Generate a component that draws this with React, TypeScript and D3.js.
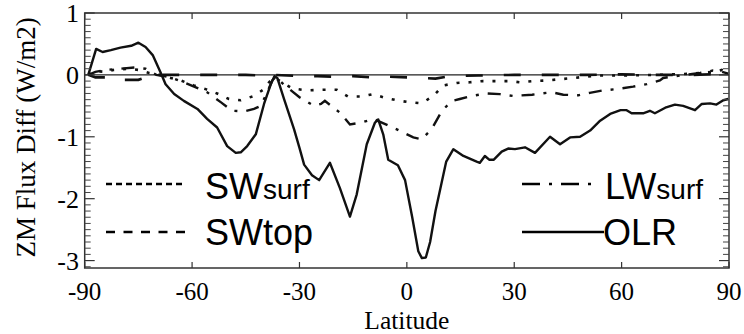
import React from 'react';
import * as d3 from 'd3';

// ---- data (latitude, W/m2) ----
const xTickValues = [-90, -60, -30, 0, 30, 60, 90];
const yTickValues = [1, 0, -1, -2, -3];

const OLR: [number, number][] = [
  [-89, 0.0], [-86.8, 0.42], [-85, 0.37], [-82.7, 0.4], [-80, 0.44], [-77, 0.47], [-75, 0.52],
  [-73, 0.45], [-71, 0.32], [-68.8, 0.04], [-67.4, -0.15], [-65, -0.31], [-62.3, -0.42],
  [-58.5, -0.55], [-55.8, -0.71], [-53, -0.85], [-50.2, -1.15], [-47.8, -1.26], [-46.4, -1.25],
  [-44.6, -1.15], [-42.2, -0.96], [-39.9, -0.47], [-38, -0.15], [-37, -0.02], [-36.2, -0.05],
  [-34.3, -0.39], [-31.5, -0.88], [-30, -1.18], [-28.7, -1.45], [-26.5, -1.62], [-24.5, -1.7],
  [-21.5, -1.42], [-18.7, -1.83], [-15.9, -2.29], [-14, -1.93], [-11.2, -1.12], [-8.9, -0.77],
  [-8, -0.72], [-6.6, -0.96], [-5.2, -1.37], [-2.5, -1.46], [-0.5, -1.7], [1.5, -2.3],
  [3.2, -2.85], [4.2, -2.96], [5.3, -2.95], [6.5, -2.7], [8, -2.2], [9.5, -1.8], [11, -1.4],
  [13, -1.2], [15.8, -1.31], [19.5, -1.4], [20.4, -1.42], [21.8, -1.31], [23, -1.37],
  [24.3, -1.37], [26.5, -1.24], [28.3, -1.19], [30.2, -1.2], [33, -1.17], [35.8, -1.26],
  [40, -1.0], [42.8, -1.12], [45.6, -1.01], [48.4, -1.0], [51.2, -0.9], [54, -0.74],
  [56.8, -0.63], [59.7, -0.57], [61.4, -0.57], [62.8, -0.62], [66, -0.62], [67.9, -0.58],
  [69.3, -0.62], [72.2, -0.53], [74.9, -0.48], [77.2, -0.5], [80.5, -0.57], [82.4, -0.47],
  [84.7, -0.46], [86.5, -0.48], [88.4, -0.41], [89.8, -0.39],
];

const LWsurf: [number, number][] = [
  [-89, 0.0], [-87, 0.05], [-84, 0.08], [-80, 0.1], [-76, 0.12], [-73, 0.1], [-70, 0.0],
  [-66, -0.04], [-62.3, -0.12], [-55.8, -0.28], [-52, -0.44], [-48.8, -0.58], [-45.5, -0.59],
  [-42.7, -0.55], [-40.8, -0.5], [-39, -0.28], [-37.6, -0.09], [-36.6, -0.03], [-34.5, -0.15],
  [-30, -0.36], [-26, -0.5], [-24, -0.47], [-22.9, -0.42], [-18.7, -0.61], [-15.9, -0.8],
  [-12.6, -0.77], [-9.4, -0.71], [-7, -0.77], [-2.8, -0.88], [1.8, -1.01], [4.1, -1.04],
  [6.9, -0.88], [9.8, -0.58], [12.6, -0.42], [14.8, -0.39], [18.2, -0.34], [22.3, -0.3],
  [26, -0.31], [29.7, -0.34], [35, -0.32], [40.4, -0.28], [43.7, -0.32], [47.9, -0.33],
  [51.1, -0.29], [54.9, -0.25], [58.6, -0.23], [63.2, -0.19], [67, -0.15], [70.7, -0.09],
  [71.6, -0.05], [76.3, -0.01], [81.9, 0.03], [85.5, 0.07], [88, 0.05], [89.8, 0.02],
];

const SWsurf: [number, number][] = [
  [-89, 0.0], [-87, 0.06], [-84, 0.05], [-82, 0.08], [-78, 0.1], [-75, 0.08], [-72, 0.03],
  [-69, 0.0], [-66, -0.05], [-63.2, -0.09], [-59.5, -0.17], [-56.2, -0.23], [-53, -0.3],
  [-49.7, -0.39], [-46.4, -0.41], [-42.7, -0.34], [-39.9, -0.23], [-38.5, -0.12], [-37.1, -0.04],
  [-34.3, -0.14], [-32, -0.22], [-28, -0.25], [-23.3, -0.24], [-19.6, -0.24], [-16.4, -0.35],
  [-12.6, -0.35], [-9.4, -0.31], [-6.1, -0.37], [-2.8, -0.41], [0.4, -0.44], [4.1, -0.46],
  [7.4, -0.34], [10.2, -0.17], [13.9, -0.13], [17.6, -0.12], [21.3, -0.1], [25.1, -0.1],
  [28.8, -0.1], [31.6, -0.12], [35.3, -0.1], [39, -0.09], [42.8, -0.07], [46.5, -0.05],
  [49.8, -0.03], [53.5, -0.01], [60, -0.01], [70, 0.0], [80, 0.02], [86, 0.05], [88, 0.08],
  [89.8, 0.03],
];

const SWtop: [number, number][] = [
  [-89, 0.0], [-87, -0.04], [-84, -0.04], [-82, -0.02], [-80, -0.08], [-75, -0.08],
  [-72, -0.02], [-68, 0.0], [-60, 0.0], [-50, 0.0], [-45, 0.0], [-40, -0.01], [-37, 0.0],
  [-30, -0.02], [-25, -0.02], [-20, -0.03], [-15, -0.02], [-10, -0.04], [-5, -0.03],
  [0, -0.04], [5, -0.05], [8, -0.06], [12, -0.02], [20, -0.01], [30, 0.0], [40, 0.0],
  [50, 0.0], [60, 0.01], [70, 0.0], [80, 0.0], [85, 0.01], [89.8, 0.0],
];

const x = d3.scaleLinear().domain([-90, 90]).range([84.7, 729]);
const y = d3.scaleLinear().domain([-3.12, 1]).range([268, 13]);

const line = d3
  .line<[number, number]>()
  .x((d) => x(d[0]))
  .y((d) => y(d[1]));

const minorY = d3.range(-31, 11).map((i) => i / 10).filter((v) => Math.abs(v - Math.round(v)) > 1e-6);

const SERIF = "'Liberation Serif', 'Times New Roman', 'DejaVu Serif', serif";
const SANS = "'Liberation Sans', Arial, sans-serif";
const INK = '#111';

export default function App() {
  const [x0, x1] = x.range();
  const [yb, yt] = y.range();
  return (
    <svg
      width={744}
      height={334}
      style={{ position: 'absolute', left: 0, top: 0, background: '#fff' }}
    >
      <rect x={0} y={0} width={744} height={334} fill="#fff" />
      {/* zero line */}
      <line x1={x0} x2={x1} y1={y(0)} y2={y(0)} stroke="#222" strokeWidth={1.3} />

      {/* series */}
      <path d={line(SWtop) || ''} fill="none" stroke={INK} strokeWidth={2.6} strokeDasharray="17,21" />
      <path d={line(SWsurf) || ''} fill="none" stroke={INK} strokeWidth={2.6} strokeDasharray="3,9" />
      <path d={line(LWsurf) || ''} fill="none" stroke={INK} strokeWidth={2.4} strokeDasharray="13,9,3,9" />
      <path d={line(OLR) || ''} fill="none" stroke={INK} strokeWidth={2.4} strokeLinejoin="round" />

      {/* frame */}
      <rect x={x0} y={yt} width={x1 - x0} height={yb - yt} fill="none" stroke="#333" strokeWidth={1.5} />

      {/* y ticks */}
      {yTickValues.map((v) => (
        <g key={'y' + v}>
          <line x1={x0} x2={x0 + 10} y1={y(v)} y2={y(v)} stroke="#333" strokeWidth={1.2} />
          <line x1={x1} x2={x1 - 10} y1={y(v)} y2={y(v)} stroke="#333" strokeWidth={1.2} />
          <text
            x={79}
            y={y(v) + 9}
            textAnchor="end"
            fontFamily={SERIF}
            fontSize={26}
            fill="#000"
          >
            {v}
          </text>
        </g>
      ))}
      {minorY.map((v) => (
        <g key={'m' + v}>
          <line x1={x0} x2={x0 + 6} y1={y(v)} y2={y(v)} stroke="#444" strokeWidth={1} />
          <line x1={x1} x2={x1 - 6} y1={y(v)} y2={y(v)} stroke="#444" strokeWidth={1} />
        </g>
      ))}

      {/* x ticks */}
      {xTickValues.map((v) => (
        <g key={'x' + v}>
          <line x1={x(v)} x2={x(v)} y1={yb} y2={yb - 6} stroke="#333" strokeWidth={1.2} />
          <line x1={x(v)} x2={x(v)} y1={yt} y2={yt + 6} stroke="#333" strokeWidth={1.2} />
          <text x={x(v)} y={300} textAnchor="middle" fontFamily={SERIF} fontSize={25} fill="#000">
            {v}
          </text>
        </g>
      ))}

      {/* axis titles */}
      <text x={x(0)} y={328.5} textAnchor="middle" fontFamily={SERIF} fontSize={25.5} fill="#000">
        Latitude
      </text>
      <text
        transform="translate(35,137.5) rotate(-90)"
        textAnchor="middle"
        fontFamily={SERIF}
        fontSize={27}
        fill="#000"
      >
        ZM Flux Diff (W/m2)
      </text>

      {/* legend */}
      <line x1={106} x2={185} y1={184} y2={184} stroke="#000" strokeWidth={2.4} strokeDasharray="6,4" />
      <text x={205} y={199} fontFamily={SANS} fontSize={36} fill="#000">
        SW<tspan fontSize={28}>surf</tspan>
      </text>
      <line x1={106} x2={185} y1={232} y2={232} stroke="#000" strokeWidth={2.4} strokeDasharray="9,8.5" />
      <text x={205} y={245} fontFamily={SANS} fontSize={36} fill="#000">
        SWtop
      </text>
      <line x1={522} x2={595} y1={184} y2={184} stroke="#000" strokeWidth={2.4} strokeDasharray="18,9,3,9" />
      <text x={605} y={199} fontFamily={SANS} fontSize={36} fill="#000">
        LW<tspan fontSize={28}>surf</tspan>
      </text>
      <line x1={522} x2={604} y1={232} y2={232} stroke="#000" strokeWidth={2.6} />
      <text x={603} y={245} fontFamily={SANS} fontSize={36} fill="#000">
        OLR
      </text>
    </svg>
  );
}
